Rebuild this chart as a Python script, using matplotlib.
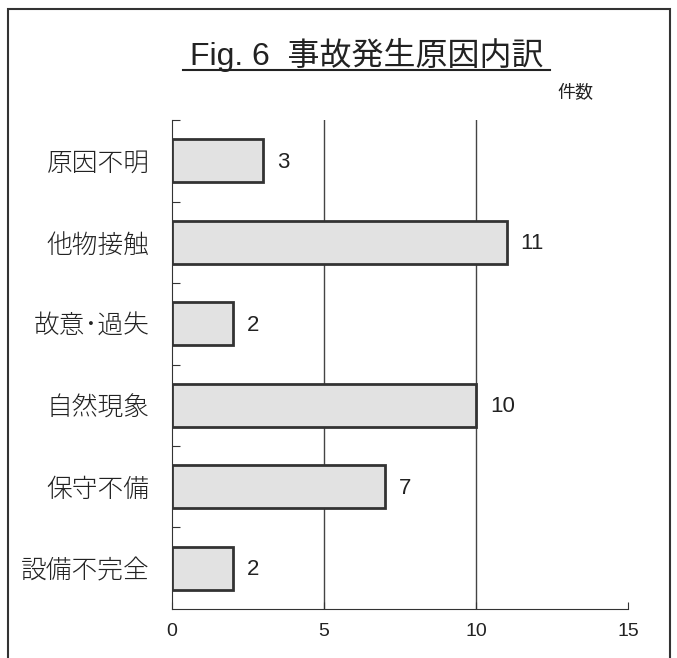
import matplotlib
matplotlib.use("Agg")
import matplotlib.pyplot as plt
from matplotlib.patches import Rectangle
from matplotlib.lines import Line2D

plt.rcParams['font.family'] = ['Noto Sans CJK JP', 'DejaVu Sans']

categories = ["原因不明", "他物接触", "故意･過失", "自然現象", "保守不備", "設備不完全"]
values = [3, 11, 2, 10, 7, 2]
xticks = [0, 5, 10, 15]
title = "Fig. 6  事故発生原因内訳"
unit_label = "件数"

num_font = ['Liberation Sans', 'DejaVu Sans']

fig = plt.figure(figsize=(6.77, 6.58), dpi=100)
ax = fig.add_axes([0.254, 0.0745, 0.674, 0.743])

n = len(categories)
ypos = list(range(n))[::-1]
ax.barh(ypos, values, height=0.53, color="#e2e2e2", edgecolor="#333333", linewidth=2, zorder=3)
for y, v in zip(ypos, values):
    ax.annotate(str(v), (v, y), xytext=(10, -1), textcoords="offset points",
                va="center", ha="left", fontsize=16, color="#222222", family=num_font)

ax.set_xlim(0, 15)
ax.set_ylim(-0.5, n - 0.5)
ax.set_xticks(xticks)
ax.set_xticklabels([str(t) for t in xticks], fontsize=14, family=num_font)
ax.tick_params(axis="x", direction="in", length=5, pad=10, colors="#333333", labelcolor="#222222")
ax.set_yticks([y + 0.5 for y in range(n)])
ax.set_yticklabels([])
ax.set_yticks(ypos, minor=True)
ax.set_yticklabels(categories, minor=True, fontsize=18.5, fontweight="light")
ax.tick_params(axis="y", which="major", direction="in", length=6, colors="#333333")
ax.tick_params(axis="y", which="minor", length=0, pad=16, labelcolor="#222222")
for x in xticks[1:3]:
    ax.axvline(x, color="#444444", linewidth=1, zorder=1)
for s in ["top", "right"]:
    ax.spines[s].set_visible(False)
ax.spines["left"].set_color("#333333")
ax.spines["bottom"].set_color("#333333")

fig.text(0.542, 0.916, title, ha="center", va="center", fontsize=23, color="#222222",
         family=['Liberation Sans', 'Noto Sans CJK JP'])
fig.add_artist(Line2D([0.27, 0.812], [0.893, 0.893], color="#222222", linewidth=1.5))
fig.text(0.85, 0.858, unit_label, ha="center", va="center", fontsize=13, color="#222222")

fig.add_artist(Rectangle((0.012, -0.01), 0.978, 0.997, fill=False, edgecolor="#333333", linewidth=1.5))

fig.savefig("out.png", dpi=100)
